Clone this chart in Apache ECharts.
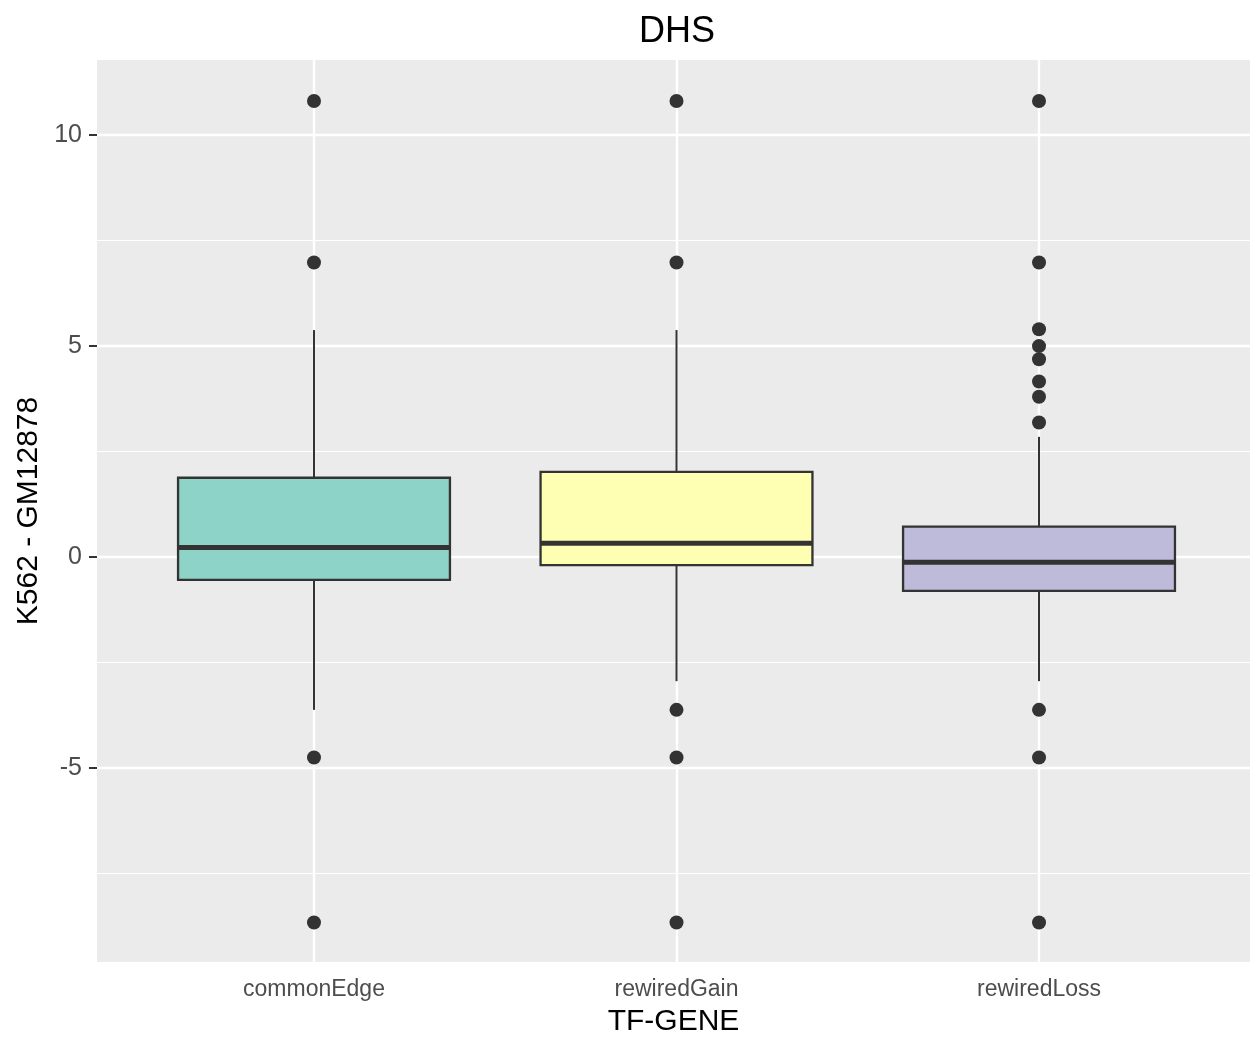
<!DOCTYPE html>
<html>
<head>
<meta charset="utf-8">
<script src="https://cdn.jsdelivr.net/npm/echarts@6/dist/echarts.min.js"></script>
<style>
html,body{margin:0;padding:0;background:#fff;}
#chart{width:1250px;height:1049px;}
</style>
</head>
<body>
<div id="chart"></div>
<script>
// ---- data ----
var categories = ['commonEdge', 'rewiredGain', 'rewiredLoss'];
var whiskerLow  = [-3.63, -2.95, -2.95];
var q1          = [-0.55, -0.20, -0.81];
var median      = [ 0.22,  0.32, -0.13];
var q3          = [ 1.87,  2.01,  0.71];
var whiskerHigh = [ 5.37,  5.37,  2.84];
var outliersCommonEdge  = [10.8, 6.97, -4.76, -8.67];
var outliersRewiredGain = [10.8, 6.97, -3.63, -4.76, -8.67];
var outliersRewiredLoss = [10.8, 6.97, 5.39, 4.99, 4.68, 4.15, 3.79, 3.18, -3.63, -4.76, -8.67];
var yTickValues = [-5, 0, 5, 10];
var yMinorValues = [-7.5, -2.5, 2.5, 7.5];

// ---- style ----
var fills = ['#8DD3C7', '#FFFFB3', '#BEBADA'];
var FONT = "'Liberation Sans', Arial, Helvetica, sans-serif";
var BOXW = 0.75;

var outlierSets = [outliersCommonEdge, outliersRewiredGain, outliersRewiredLoss];
var boxData = categories.map(function (c, i) {
  return [i + 1, whiskerLow[i], q1[i], median[i], q3[i], whiskerHigh[i]];
});
var outlierData = [];
outlierSets.forEach(function (arr, i) {
  arr.forEach(function (v) { outlierData.push([i + 1, v]); });
});
var xTickValues = categories.map(function (c, i) { return i + 1; });

var gridLines = [];
yMinorValues.forEach(function (v) { gridLines.push({ yAxis: v, lineStyle: { width: 1.2 } }); });
yTickValues.forEach(function (v) { gridLines.push({ yAxis: v, lineStyle: { width: 2.4 } }); });
xTickValues.forEach(function (v) { gridLines.push({ xAxis: v, lineStyle: { width: 2.4 } }); });

var chart = echarts.init(document.getElementById('chart'), null, { renderer: 'canvas' });
chart.setOption({
  animation: false,
  backgroundColor: '#ffffff',
  title: {
    text: 'DHS', left: 672, top: 9, textAlign: 'center',
    textStyle: { fontSize: 36, fontWeight: 'normal', color: '#000', fontFamily: FONT }
  },
  grid: {
    left: 97, right: 0, top: 60, bottom: 87,
    show: true, backgroundColor: '#EBEBEB', borderWidth: 0, containLabel: false
  },
  xAxis: {
    type: 'value', min: 0.4014, max: 3.582,
    name: 'TF-GENE', nameLocation: 'middle', nameGap: 45,
    nameTextStyle: { fontSize: 30, color: '#000', fontFamily: FONT },
    axisLine: { show: false },
    splitLine: { show: false },
    axisTick: { show: true, length: 8, customValues: xTickValues, lineStyle: { color: '#333', width: 2 } },
    axisLabel: {
      customValues: xTickValues, margin: 16, fontSize: 23, color: '#4D4D4D', fontFamily: FONT,
      formatter: function (v) { return categories[Math.round(v) - 1] || ''; }
    }
  },
  yAxis: {
    type: 'value', min: -9.605, max: 11.77,
    name: 'K562 - GM12878', nameLocation: 'middle', nameGap: 50,
    nameTextStyle: { fontSize: 30, color: '#000', fontFamily: FONT },
    axisLine: { show: false },
    splitLine: { show: false },
    axisTick: { show: true, length: 8, customValues: yTickValues, lineStyle: { color: '#333', width: 2 } },
    axisLabel: { customValues: yTickValues, margin: 15, fontSize: 25, color: '#4D4D4D', fontFamily: FONT }
  },
  series: [
    {
      type: 'scatter', data: [], z: 1, silent: true,
      markLine: {
        z: 1,
        silent: true, symbol: ['none', 'none'], label: { show: false },
        lineStyle: { color: '#FFFFFF', type: 'solid' },
        emphasis: { disabled: true },
        data: gridLines
      }
    },
    {
      type: 'custom', z: 10, silent: true,
      data: boxData,
      encode: { x: 0, y: [1, 2, 3, 4, 5] },
      renderItem: function (params, api) {
        var x = api.value(0);
        var lo = api.value(1), a = api.value(2), m = api.value(3), b = api.value(4), hi = api.value(5);
        var tl = api.coord([x - BOXW / 2, b]);
        var br = api.coord([x + BOXW / 2, a]);
        var pHi = api.coord([x, hi]);
        var pLo = api.coord([x, lo]);
        var mL = api.coord([x - BOXW / 2, m]);
        var mR = api.coord([x + BOXW / 2, m]);
        var stroke = '#333333';
        return {
          type: 'group',
          children: [
            { type: 'line', shape: { x1: pHi[0], y1: pHi[1], x2: pHi[0], y2: tl[1] }, style: { stroke: stroke, lineWidth: 2 } },
            { type: 'line', shape: { x1: pLo[0], y1: br[1], x2: pLo[0], y2: pLo[1] }, style: { stroke: stroke, lineWidth: 2 } },
            { type: 'rect', shape: { x: tl[0], y: tl[1], width: br[0] - tl[0], height: br[1] - tl[1] },
              style: { fill: fills[params.dataIndex], stroke: stroke, lineWidth: 2.3 } },
            { type: 'line', shape: { x1: mL[0], y1: mL[1], x2: mR[0], y2: mR[1] }, style: { stroke: stroke, lineWidth: 5 } }
          ]
        };
      }
    },
    {
      type: 'scatter', z: 11, silent: true,
      data: outlierData,
      symbol: 'circle', symbolSize: 14,
      itemStyle: { color: '#333333', opacity: 1 }
    }
  ]
});
</script>
</body>
</html>
